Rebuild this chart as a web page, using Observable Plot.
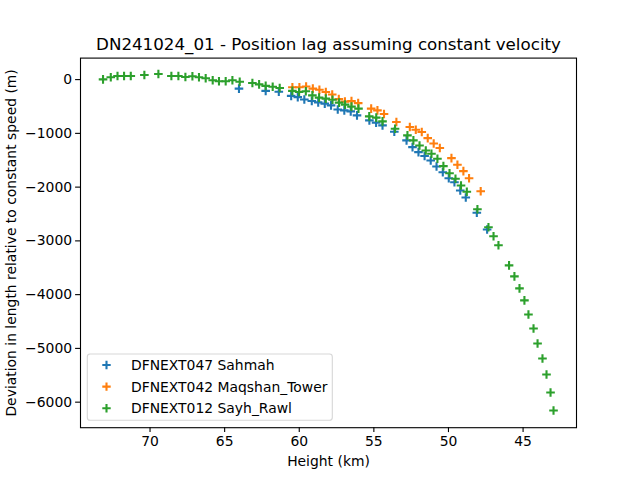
<!DOCTYPE html>
<html>
<head>
<meta charset="utf-8">
<script src="https://cdn.jsdelivr.net/npm/d3@7"></script>
<script src="https://cdn.jsdelivr.net/npm/@observablehq/plot@0.6"></script>
<style>
  html, body { margin: 0; padding: 0; background: #fff; }
  svg { display: block; }
</style>
</head>
<body>
<div id="chart"></div>
<script>
// Event DN241024_01: deviation from a constant-velocity trajectory, per camera station.
const chartTitle = "DN241024_01 - Position lag assuming constant velocity";
const xLabel = "Height (km)";
const yLabel = "Deviation in length relative to constant speed (m)";

const stations = ["DFNEXT047 Sahmah", "DFNEXT042 Maqshan_Tower", "DFNEXT012 Sayh_Rawl"];
const stationColors = ["#1f77b4", "#ff7f0e", "#2ca02c"];

const xTicks = [70, 65, 60, 55, 50, 45];
const yTicks = [0, -1000, -2000, -3000, -4000, -5000, -6000];

// DFNEXT047 Sahmah
const sahmahHeight = [64.04, 62.25, 61.37, 60.54, 60.10, 59.66, 59.16, 58.73, 58.29, 57.87,
  57.42, 56.98, 56.55, 56.13, 55.30, 54.85, 54.42, 53.63, 52.81, 52.41, 52.01, 51.60,
  51.19, 50.80, 50.38, 49.98, 49.60, 49.21, 48.84, 48.10, 47.41];
const sahmahDev = [-168, -209, -227, -302, -326, -371, -399, -423, -447, -479,
  -557, -572, -591, -665, -758, -801, -852, -969, -1131, -1256, -1349, -1420,
  -1504, -1615, -1722, -1834, -1908, -2063, -2193, -2478, -2789];

// DFNEXT042 Maqshan_Tower
const maqshanHeight = [60.46, 59.99, 59.54, 59.09, 58.65, 58.22, 57.79, 57.35, 56.94, 56.50,
  56.05, 55.18, 54.76, 54.32, 53.49, 52.59, 52.19, 51.79, 51.39, 50.99, 50.58, 49.80,
  49.40, 49.00, 48.62, 47.84];
const maqshanDev = [-143, -143, -129, -168, -190, -231, -278, -363, -410, -401,
  -438, -540, -572, -641, -790, -883, -932, -976, -1088, -1188, -1272, -1461,
  -1584, -1703, -1834, -2076];

// DFNEXT012 Sayh_Rawl
const sayhHeight = [73.15, 72.63, 72.18, 71.74, 71.29, 70.38, 69.44, 68.57, 68.10, 67.63,
  67.16, 66.72, 66.27, 65.80, 65.38, 64.93, 64.48, 63.99, 63.14, 62.69, 62.25, 61.78,
  61.31, 60.46, 60.01, 59.56, 59.12, 58.67, 58.22, 57.77, 57.33, 56.93, 56.50, 56.03,
  55.31, 54.84, 54.42, 53.58, 52.75, 52.35, 51.94, 51.52, 51.14, 50.74, 50.34, 49.93,
  49.53, 49.16, 48.77, 48.06, 47.32, 46.98, 46.65, 45.94, 45.58, 45.24, 44.91, 44.64,
  44.30, 44.03, 43.70, 43.43, 43.16, 42.96];
const sayhDev = [5, 43, 67, 67, 67, 86, 104, 67, 67, 48,
  61, 43, 24, -13, -32, -32, -13, -41, -63, -88, -116, -134,
  -157, -209, -231, -218, -293, -335, -354, -376, -429, -466, -503, -540,
  -684, -708, -777, -913, -1038, -1131, -1225, -1318, -1379, -1472, -1610, -1741,
  -1845, -1970, -2087, -2411, -2747, -2914, -3082, -3455, -3660, -3883, -4107, -4368,
  -4629, -4908, -5188, -5486, -5821, -6156];

const series = [
  [sahmahHeight, sahmahDev],
  [maqshanHeight, maqshanDev],
  [sayhHeight, sayhDev]
];
const rows = series.flatMap(([hs, vs], k) =>
  hs.map((h, i) => ({height: h, dev: vs[i], station: stations[k]})));

// Thin "+" marker (two stroked strokes), sized from the dot radius.
const plusMarker = {
  draw(context, size) {
    const r = Math.sqrt(size / Math.PI);
    context.moveTo(-r, 0); context.lineTo(r, 0);
    context.moveTo(0, -r); context.lineTo(0, r);
  }
};

const fmt = d => (d < 0 ? "\u2212" : "") + Math.abs(d);
const FONT = "DejaVu Sans";

const svg = Plot.plot({
  width: 640,
  height: 480,
  marginLeft: 80,
  marginRight: 64,
  marginTop: 57.6,
  marginBottom: 52.8,
  style: {fontFamily: FONT, fontSize: "13.9px", background: "#fff", color: "#000"},
  x: {domain: [74.66, 41.42]},
  y: {domain: [-6475, 400]},
  color: {domain: stations, range: stationColors},
  marks: [
    Plot.axisX({ticks: xTicks, tickFormat: d => String(d), tickSize: 4.9, tickPadding: 3.5,
      label: null, fontSize: 13.9, strokeWidth: 1.1}),
    Plot.axisY({ticks: yTicks, tickFormat: fmt, tickSize: 4.9, tickPadding: 3.5,
      label: null, fontSize: 13.9, strokeWidth: 1.1}),
    Plot.dot(rows, {x: "height", y: "dev", stroke: "station", fill: "none",
      symbol: plusMarker, r: 4.3, strokeWidth: 2.1}),
    Plot.frame({stroke: "#000", strokeWidth: 1.1}),
    Plot.text([chartTitle], {frameAnchor: "top", dy: -8.3, lineAnchor: "bottom", fontSize: 16.7}),
    Plot.text([xLabel], {frameAnchor: "bottom", dy: 38.5, lineAnchor: "bottom", fontSize: 13.9}),
    Plot.text([yLabel], {frameAnchor: "left", dx: -65, rotate: -90, textAnchor: "middle",
      lineAnchor: "bottom", fontSize: 13.9})
  ]
});

// Legend box in the lower-left corner of the axes.
const lg = d3.select(svg).append("g")
  .attr("font-family", FONT).attr("font-size", "13.9px").attr("text-anchor", "start");
lg.append("rect")
  .attr("x", 87.3).attr("y", 354).attr("width", 245).attr("height", 66.3)
  .attr("rx", 2.8)
  .attr("fill", "#fff").attr("fill-opacity", 0.8)
  .attr("stroke", "#cccccc").attr("stroke-opacity", 0.8).attr("stroke-width", 1.1);
stations.forEach((name, i) => {
  const cy = 365 + i * 21.6;
  lg.append("path")
    .attr("d", `M${106.5 - 4.2},${cy}h8.4M106.5,${cy - 4.2}v8.4`)
    .attr("stroke", stationColors[i]).attr("stroke-width", 2.1).attr("fill", "none");
  lg.append("text").attr("x", 131).attr("y", cy + 5).attr("fill", "#000").text(name);
});

document.getElementById("chart").appendChild(svg);
</script>
</body>
</html>
